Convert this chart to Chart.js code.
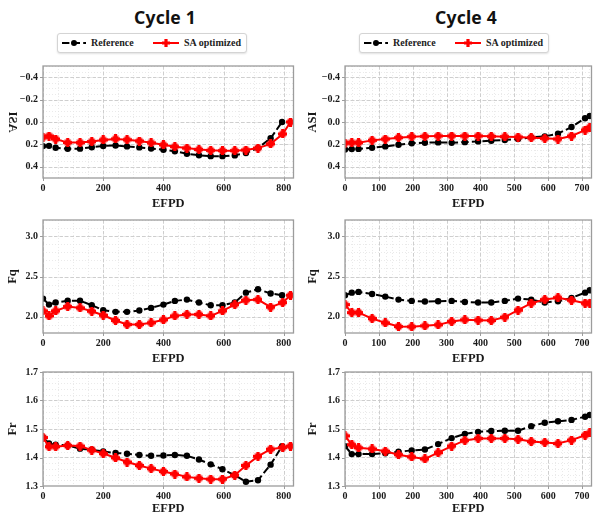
<!DOCTYPE html>
<html>
<head>
<meta charset="utf-8">
<script src="https://cdn.jsdelivr.net/npm/chart.js@4.4.1/dist/chart.umd.min.js"></script>
<style>
  html, body { margin: 0; padding: 0; background: #fff; }
  body { width: 598px; height: 512px; position: relative; overflow: hidden; }
  .cycle-title { position: absolute; top: 5px; width: 160px; text-align: center;
    font: bold 17.5px 'Noto Sans', sans-serif; color: #111; letter-spacing: 0.2px; }
  .legend { position: absolute; top: 33px; height: 18px; border: 1px solid #d4d4d4; border-radius: 3px;
    box-shadow: 0 1px 2px rgba(0,0,0,0.12); background: #fff;
    font: bold 10px 'Liberation Serif', 'Times New Roman', serif; color: #222; }
  .legend svg { position: absolute; top: 4px; }
  .legend span { position: absolute; top: 3px; white-space: nowrap; }
  .panel { position: absolute; }
  .panel canvas { display: block; }
</style>
</head>
<body>

<div class="cycle-title" style="left:85px">Cycle 1</div>
<div class="cycle-title" style="left:386px">Cycle 4</div>

<div class="legend" style="left:57px;width:188px">
  <svg width="24" height="10" style="left:4px"><line x1="0" y1="5" x2="24" y2="5" stroke="#000" stroke-width="2" stroke-dasharray="7.4 3.2"/><circle cx="12" cy="5" r="3" fill="#000"/></svg>
  <span style="left:33px">Reference</span>
  <svg width="26" height="10" style="left:95px"><line x1="0" y1="5" x2="26" y2="5" stroke="#f00" stroke-width="2"/><path d="M11.4 1h3.2v2.4H17v3.2h-2.4V9h-3.2V6.6H9V3.4h2.4z" fill="#f00"/></svg>
  <span style="left:126px">SA optimized</span>
</div>
<div class="legend" style="left:359px;width:188px">
  <svg width="24" height="10" style="left:4px"><line x1="0" y1="5" x2="24" y2="5" stroke="#000" stroke-width="2" stroke-dasharray="7.4 3.2"/><circle cx="12" cy="5" r="3" fill="#000"/></svg>
  <span style="left:33px">Reference</span>
  <svg width="26" height="10" style="left:95px"><line x1="0" y1="5" x2="26" y2="5" stroke="#f00" stroke-width="2"/><path d="M11.4 1h3.2v2.4H17v3.2h-2.4V9h-3.2V6.6H9V3.4h2.4z" fill="#f00"/></svg>
  <span style="left:126px">SA optimized</span>
</div>

<script>
// ---- burnup steps (EFPD) ----
const c1RefEfpd = [0, 20, 42, 82, 123, 162, 200, 241, 279, 320, 359, 400, 438, 478, 518, 557, 596, 637, 674, 714, 756, 794];
const c1SaEfpd  = [0, 20, 42, 82, 123, 162, 200, 241, 279, 320, 359, 400, 438, 478, 518, 557, 596, 637, 674, 714, 756, 796, 822];
const c4Efpd    = [0, 20, 40, 80, 119, 158, 197, 236, 275, 315, 354, 393, 432, 472, 511, 550, 590, 629, 669, 709, 723];

// ---- Cycle 1 ----
const c1RefAsi = [0.215, 0.213, 0.230, 0.239, 0.238, 0.226, 0.214, 0.210, 0.218, 0.227, 0.236, 0.248, 0.262, 0.283, 0.297, 0.305, 0.305, 0.298, 0.277, 0.233, 0.145, 0.000];
const c1SaAsi  = [0.136, 0.125, 0.152, 0.184, 0.184, 0.175, 0.160, 0.151, 0.158, 0.170, 0.186, 0.204, 0.220, 0.233, 0.245, 0.253, 0.256, 0.256, 0.250, 0.233, 0.195, 0.107, 0.000];
const c1RefFq  = [2.226, 2.152, 2.177, 2.200, 2.200, 2.144, 2.082, 2.062, 2.062, 2.078, 2.111, 2.152, 2.198, 2.214, 2.177, 2.144, 2.144, 2.177, 2.300, 2.342, 2.290, 2.267];
const c1SaFq   = [2.074, 2.012, 2.074, 2.128, 2.111, 2.070, 2.020, 1.955, 1.905, 1.905, 1.926, 1.963, 2.012, 2.030, 2.030, 2.012, 2.074, 2.152, 2.206, 2.214, 2.120, 2.177, 2.267];
const c1RefFr  = [1.470, 1.449, 1.445, 1.442, 1.431, 1.427, 1.421, 1.416, 1.413, 1.409, 1.406, 1.407, 1.409, 1.406, 1.393, 1.376, 1.359, 1.338, 1.315, 1.320, 1.375, 1.440];
const c1SaFr   = [1.470, 1.438, 1.438, 1.442, 1.440, 1.426, 1.414, 1.399, 1.384, 1.372, 1.361, 1.351, 1.342, 1.332, 1.327, 1.324, 1.324, 1.338, 1.372, 1.404, 1.429, 1.435, 1.440];

// ---- Cycle 4 ----
const c4RefAsi = [0.245, 0.242, 0.240, 0.230, 0.218, 0.203, 0.190, 0.185, 0.182, 0.185, 0.180, 0.173, 0.167, 0.161, 0.152, 0.137, 0.128, 0.104, 0.045, -0.033, -0.054];
const c4SaAsi  = [0.188, 0.185, 0.185, 0.164, 0.152, 0.140, 0.131, 0.128, 0.125, 0.125, 0.125, 0.125, 0.128, 0.131, 0.134, 0.140, 0.146, 0.152, 0.125, 0.072, 0.048];
const c4RefFq  = [2.267, 2.300, 2.309, 2.284, 2.251, 2.214, 2.198, 2.190, 2.194, 2.198, 2.185, 2.177, 2.177, 2.198, 2.226, 2.214, 2.177, 2.194, 2.235, 2.300, 2.329];
const c4SaFq   = [2.152, 2.053, 2.053, 1.979, 1.926, 1.880, 1.877, 1.889, 1.901, 1.942, 1.963, 1.959, 1.955, 1.996, 2.082, 2.169, 2.214, 2.238, 2.206, 2.169, 2.169];
const c4RefFr  = [1.440, 1.412, 1.412, 1.412, 1.415, 1.420, 1.425, 1.428, 1.447, 1.468, 1.483, 1.490, 1.493, 1.494, 1.494, 1.510, 1.522, 1.527, 1.532, 1.543, 1.549];
const c4SaFr   = [1.476, 1.445, 1.434, 1.430, 1.422, 1.410, 1.402, 1.395, 1.417, 1.440, 1.460, 1.467, 1.467, 1.467, 1.464, 1.456, 1.453, 1.449, 1.461, 1.478, 1.486];

// ---- axis ticks ----
const c1EfpdTicks = [0, 200, 400, 600, 800];
const c4EfpdTicks = [0, 100, 200, 300, 400, 500, 600, 700];
const asiTicks = [-0.4, -0.2, 0.0, 0.2, 0.4];
const fqTicks  = [2.0, 2.5, 3.0];
const frTicks  = [1.3, 1.4, 1.5, 1.6, 1.7];

const SERIF = "'Liberation Serif', 'Times New Roman', serif";
const INK = '#1a1a1a';

// filled "plus" marker for the optimized series
function plusMarker() {
  const c = document.createElement('canvas');
  c.width = 9; c.height = 9;
  const g = c.getContext('2d');
  g.fillStyle = '#ff0000';
  g.fillRect(2.9, 0, 3.2, 9);
  g.fillRect(0, 2.9, 9, 3.2);
  g.fillRect(1.5, 1.5, 6, 6);
  return c;
}
const PLUS = plusMarker();

function pts(xs, ys) { return ys.map((y, i) => ({ x: xs[i], y })); }

function fmtY(v, digits) {
  const s = Math.abs(v).toFixed(digits);
  return (v < -1e-9 ? '\u2212' : '') + s;
}

// grid (major dashed, minor dotted), frame and outward tick marks
const framePlugin = {
  id: 'frame',
  beforeDatasetsDraw(chart, args, opts) {
    const { ctx, chartArea: a, scales: { x, y } } = chart;
    ctx.save();
    ctx.beginPath(); ctx.rect(a.left, a.top, a.width, a.height); ctx.clip();
    const drawSet = (scale, step, color, dash, width) => {
      ctx.strokeStyle = color; ctx.lineWidth = width; ctx.setLineDash(dash);
      const start = Math.ceil(scale.min / step - 1e-9);
      for (let k = start; k * step <= scale.max + 1e-9; k++) {
        const p = scale.getPixelForValue(k * step);
        ctx.beginPath();
        if (scale.axis === 'x') { ctx.moveTo(Math.round(p) + 0.5, a.top); ctx.lineTo(Math.round(p) + 0.5, a.bottom); }
        else { ctx.moveTo(a.left, Math.round(p) + 0.5); ctx.lineTo(a.right, Math.round(p) + 0.5); }
        ctx.stroke();
      }
    };
    drawSet(x, opts.xMinor, '#e4e4e4', [1, 2], 0.8);
    drawSet(y, opts.yMinor, '#e4e4e4', [1, 2], 0.8);
    drawSet(x, opts.xMajor, '#c9c9c9', [3.5, 2], 0.9);
    drawSet(y, opts.yMajor, '#c9c9c9', [3.5, 2], 0.9);
    ctx.restore();
  },
  afterDatasetsDraw(chart, args, opts) {
    const { ctx, chartArea: a, scales: { x, y } } = chart;
    ctx.save();
    ctx.strokeStyle = '#9c9c9c'; ctx.lineWidth = 1.3; ctx.setLineDash([]);
    ctx.strokeRect(a.left, a.top, a.width, a.height);
    ctx.lineWidth = 1;
    ctx.beginPath();
    x.ticks.forEach(t => { const p = Math.round(x.getPixelForValue(t.value)) + 0.5; ctx.moveTo(p, a.bottom); ctx.lineTo(p, a.bottom + 3); });
    y.ticks.forEach(t => { const p = Math.round(y.getPixelForValue(t.value)) + 0.5; ctx.moveTo(a.left, p); ctx.lineTo(a.left - 3, p); });
    ctx.stroke();
    if (opts.mirrorTitle) {
      // vertical axis title drawn mirrored
      ctx.fillStyle = INK;
      ctx.font = 'bold 12.5px ' + SERIF;
      ctx.textAlign = 'center'; ctx.textBaseline = 'middle';
      ctx.translate(12.5, (a.top + a.bottom) / 2);
      ctx.rotate(-Math.PI / 2);
      ctx.scale(1, -1);
      ctx.fillText(opts.mirrorTitle, 0, 0);
    }
    ctx.restore();
  }
};

function panel(o) {
  const div = document.createElement('div');
  div.className = 'panel';
  div.style.left = o.left + 'px';
  div.style.top = (o.plotTop - 12) + 'px';
  const W = o.width, H = 12 + o.plotH + o.xH;
  const cv = document.createElement('canvas');
  cv.width = W; cv.height = H;
  cv.style.width = W + 'px'; cv.style.height = H + 'px';
  div.appendChild(cv);
  document.body.appendChild(div);

  new Chart(cv, {
    type: 'line',
    data: {
      datasets: [
        { label: 'SA optimized', data: pts(o.saX, o.sa), order: 0,
          borderColor: '#ff0000', backgroundColor: '#ff0000', borderWidth: 2,
          pointStyle: PLUS, pointRadius: 4.5, tension: 0, fill: false },
        { label: 'Reference', data: pts(o.refX, o.ref), order: 1,
          borderColor: '#000000', backgroundColor: '#000000', borderWidth: 2, borderDash: [7.4, 3.2],
          pointStyle: 'circle', pointRadius: 3.2, pointBorderWidth: 0, pointBackgroundColor: '#000000',
          tension: 0, fill: false }
      ]
    },
    options: {
      responsive: false, animation: false, devicePixelRatio: 1, events: [],
      layout: { padding: { top: 12, right: o.padRight, left: 0, bottom: 0 } },
      plugins: {
        legend: { display: false }, tooltip: { enabled: false },
        frame: { xMajor: o.xMajor, xMinor: o.xMinor, yMajor: o.yMajor, yMinor: o.yMinor, mirrorTitle: o.mirrorTitle || null }
      },
      scales: {
        x: {
          type: 'linear', min: 0, max: o.xMax,
          afterBuildTicks: s => { s.ticks = o.xTicks.map(v => ({ value: v })); },
          afterFit: s => { s.height = o.xH; },
          grid: { display: false, drawTicks: false }, border: { display: false },
          ticks: { font: { family: SERIF, weight: 'bold', size: 10 }, color: INK, padding: 4,
                   maxRotation: 0, autoSkip: false, callback: v => String(v) },
          title: { display: true, text: 'EFPD', color: INK, padding: { top: 0, bottom: o.titlePadB },
                   font: { family: SERIF, weight: 'bold', size: 12.5 } }
        },
        y: {
          type: 'linear', min: o.yMin, max: o.yMax, reverse: !!o.reverse,
          afterBuildTicks: s => { s.ticks = o.yTicks.map(v => ({ value: v })); },
          afterFit: s => { s.width = o.yW; },
          grid: { display: false, drawTicks: false }, border: { display: false },
          ticks: { font: { family: SERIF, weight: 'bold', size: 10 }, color: INK, padding: 5,
                   callback: v => fmtY(v, 1) },
          title: { display: !o.mirrorTitle, text: o.yTitle, color: INK, padding: { top: 5, bottom: 0 },
                   font: { family: SERIF, weight: 'bold', size: 12.5 } }
        }
      }
    },
    plugins: [framePlugin]
  });
}

const cols = [
  { left: 0,   width: 300, yW: 43, padRight: 3, xMax: 832, xTicks: c1EfpdTicks, xMajor: 200, xMinor: 50,
    refX: c1RefEfpd, saX: c1SaEfpd,
    rows: [ { ref: c1RefAsi, sa: c1SaAsi }, { ref: c1RefFq, sa: c1SaFq }, { ref: c1RefFr, sa: c1SaFr } ] },
  { left: 300, width: 298, yW: 45, padRight: 1, xMax: 728, xTicks: c4EfpdTicks, xMajor: 100, xMinor: 20,
    refX: c4Efpd, saX: c4Efpd,
    rows: [ { ref: c4RefAsi, sa: c4SaAsi }, { ref: c4RefFq, sa: c4SaFq }, { ref: c4RefFr, sa: c4SaFr } ] }
];
const rowsSpec = [
  { plotTop: 66,  plotH: 112, xH: 33, titlePadB: 0, yMin: -0.5, yMax: 0.5, reverse: true, yTicks: asiTicks, yMajor: 0.2, yMinor: 0.05, yTitle: 'ASI' },
  { plotTop: 220, plotH: 113, xH: 33, titlePadB: 0, yMin: 1.8,  yMax: 3.2, yTicks: fqTicks,  yMajor: 0.5, yMinor: 0.1,  yTitle: 'Fq' },
  { plotTop: 372, plotH: 114, xH: 30, titlePadB: 0, yMin: 1.3,  yMax: 1.7, yTicks: frTicks,  yMajor: 0.1, yMinor: 0.02, yTitle: 'Fr' }
];

cols.forEach((c, ci) => {
  rowsSpec.forEach((r, ri) => {
    panel(Object.assign({}, r, {
      left: c.left, width: c.width, yW: c.yW, padRight: c.padRight, xMax: c.xMax, xTicks: c.xTicks,
      xMajor: c.xMajor, xMinor: c.xMinor, refX: c.refX, saX: c.saX,
      ref: c.rows[ri].ref, sa: c.rows[ri].sa,
      mirrorTitle: (ci === 0 && ri === 0) ? 'ASI' : null
    }));
  });
});
</script>
</body>
</html>
